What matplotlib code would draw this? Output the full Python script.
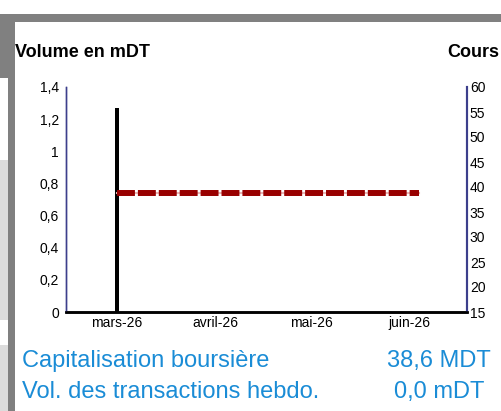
"""
Volume / cours hebdomadaire - reproduction du graphique
"""
import datetime as dt
import matplotlib
matplotlib.use('Agg')
import matplotlib.pyplot as plt
import matplotlib.dates as mdates
import matplotlib.patches as patches

plt.rcParams['font.family'] = ['Liberation Sans', 'DejaVu Sans']

# data
dates = ['2026-03-01', '2026-03-08', '2026-03-15', '2026-03-22', '2026-03-29',
         '2026-04-05', '2026-04-12', '2026-04-19', '2026-04-26', '2026-05-03',
         '2026-05-10', '2026-05-17', '2026-05-24', '2026-05-31', '2026-06-04']
volume = [1.27, 0, 0, 0, 0, 0, 0, 0, 0, 0, 0, 0, 0, 0, 0]
cours = [38.7, 38.7, 38.7, 38.7, 38.7, 38.7, 38.7, 38.7, 38.7, 38.7,
         38.7, 38.7, 38.7, 38.7, 38.7]
month_ticks = ['2026-03-01', '2026-04-01', '2026-05-01', '2026-06-01']
month_labels = ['mars-26', 'avril-26', 'mai-26', 'juin-26']
marked_ticks = ['2026-03-01', '2026-06-01']
vol_ticks = [0, 0.2, 0.4, 0.6, 0.8, 1.0, 1.2, 1.4]
cours_ticks = [15, 20, 25, 30, 35, 40, 45, 50, 55, 60]
stats_labels = ['Capitalisation boursière', 'Vol. des transactions hebdo.']
stats_values = ['38,6 MDT', '0,0 mDT']

BLUE = '#1a8cd6'
AXIS = '#3c3f8c'


def to_num(s):
    return mdates.date2num(dt.datetime.strptime(s, '%Y-%m-%d'))


x = [to_num(d) for d in dates]

fig = plt.figure(figsize=(5.01, 4.11), dpi=100)
fig.patch.set_facecolor('white')

# page frame (grey band on top and left)
W, H = 501.0, 411.0
frame = [
    (0, 14, 501, 8, '#808080'),
    (0, 14, 15, 64, '#808080'),
    (8, 14, 7, 397, '#808080'),
    (0, 160, 8, 160, '#dcdcdc'),
    (0, 345, 8, 66, '#dcdcdc'),
]
for fx, fy, fw, fh, col in frame:
    fig.patches.append(patches.Rectangle((fx / W, 1 - (fy + fh) / H), fw / W, fh / H,
                                         transform=fig.transFigure, facecolor=col,
                                         edgecolor='none', zorder=0))

ax = fig.add_axes([66 / W, 1 - 312 / H, (467 - 66) / W, (312 - 87) / H])
ax2 = ax.twinx()

ax.bar(x, volume, width=1.3, color='black', zorder=3)
ax.set_ylim(0, 1.4)
ax.set_yticks(vol_ticks)
ax.set_yticklabels([('%g' % v).replace('.', ',') for v in vol_ticks], fontsize=10)
ax.set_xlim(to_num('2026-02-13'), to_num('2026-06-19'))
ax.set_xticks([to_num(d) for d in month_ticks])
ax.set_xticklabels(month_labels, fontsize=10)
ax.set_xticks([to_num(d) for d in marked_ticks], minor=True)
ax.tick_params(axis='x', which='major', length=0, pad=3)
ax.tick_params(axis='x', which='minor', length=5, width=1, direction='in')
ax.tick_params(axis='y', length=0, pad=5)

ax2.plot(x, cours, color='#e8b4b4', lw=1.5, zorder=2)
ax2.plot(x, cours, color='#990000', lw=4.3, linestyle=(0, (3, 0.5)),
         solid_capstyle='butt', zorder=3)
ax2.set_ylim(15, 60)
ax2.set_yticks(cours_ticks)
ax2.set_yticklabels([str(v) for v in cours_ticks], fontsize=10)
ax2.tick_params(axis='y', length=0, pad=2)

for a in (ax, ax2):
    a.spines['top'].set_visible(False)
    a.spines['left'].set_color(AXIS)
    a.spines['left'].set_linewidth(1)
    a.spines['right'].set_color(AXIS)
    a.spines['right'].set_linewidth(1.5)
    a.spines['bottom'].set_color('black')
    a.spines['bottom'].set_linewidth(1.8)
    a.set_facecolor('none')

fig.text(15 / W, 1 - 52 / H, 'Volume en mDT', fontsize=13, fontweight='bold',
         ha='left', va='center')
fig.text(499 / W, 1 - 52 / H, 'Cours', fontsize=13, fontweight='bold',
         ha='right', va='center')

for i, (lab, val) in enumerate(zip(stats_labels, stats_values)):
    yy = 1 - (361 + 31 * i) / H
    fig.text(22 / W, yy, lab, fontsize=17, color=BLUE, ha='left', va='center')
    fig.text(439 / W, yy, val, fontsize=17, color=BLUE, ha='center', va='center')

fig.savefig('out.png', dpi=100, facecolor='white')
